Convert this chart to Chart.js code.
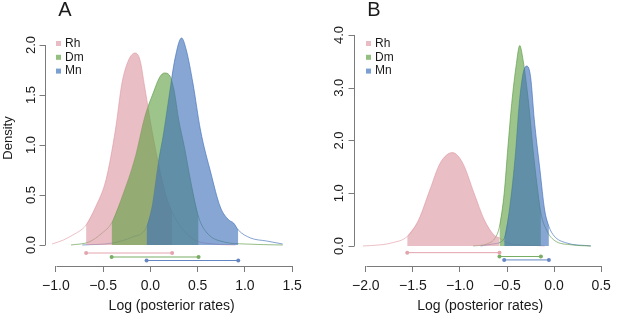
<!DOCTYPE html>
<html>
<head>
<meta charset="utf-8">
<script src="https://cdn.jsdelivr.net/npm/chart.js@4"></script>
<style>
  html, body { margin: 0; padding: 0; background: #fff; }
  .wrap { position: relative; width: 617px; height: 315px; }
  canvas { position: absolute; top: 0; }
  #chartA { left: 0; }
  #chartB { left: 308px; }
</style>
</head>
<body>
<div class="wrap">
  <canvas id="chartA" width="308" height="315"></canvas>
  <canvas id="chartB" width="309" height="315"></canvas>
</div>
<script>
// species order in legend
const species = ["Rh", "Dm", "Mn"];

// ---- panel A: posterior density curves ----
const rhAx = [-1.04, -0.92, -0.82, -0.72, -0.68, -0.58, -0.47, -0.37, -0.30, -0.23, -0.16, -0.11, -0.06, 0.01, 0.10, 0.17, 0.23, 0.33, 0.47, 0.67, 0.90];
const rhAy = [0.01, 0.05, 0.10, 0.16, 0.20, 0.38, 0.65, 1.15, 1.62, 1.85, 1.92, 1.85, 1.58, 1.18, 0.75, 0.48, 0.33, 0.17, 0.05, 0.01, 0.00];
const dmAx = [-0.84, -0.65, -0.51, -0.41, -0.30, -0.16, -0.06, 0.03, 0.10, 0.15, 0.20, 0.25, 0.30, 0.36, 0.43, 0.51, 0.60, 0.78, 1.00, 1.40];
const dmAy = [0.00, 0.03, 0.12, 0.22, 0.48, 0.88, 1.28, 1.52, 1.68, 1.72, 1.70, 1.55, 1.25, 0.98, 0.62, 0.28, 0.12, 0.03, 0.01, 0.00];
const mnAx = [-0.72, -0.40, -0.19, -0.04, 0.02, 0.08, 0.14, 0.20, 0.26, 0.33, 0.38, 0.45, 0.53, 0.64, 0.74, 0.83, 0.88, 0.93, 1.06, 1.23, 1.40];
const mnAy = [0.00, 0.02, 0.08, 0.18, 0.40, 0.80, 1.12, 1.50, 1.86, 2.07, 1.95, 1.62, 1.15, 0.72, 0.38, 0.25, 0.22, 0.15, 0.07, 0.04, 0.01];
const hpdA = [[-0.68, 0.23], [-0.41, 0.51], [-0.04, 0.93]];
const barLevelA = [-0.08, -0.12, -0.155];
const xTicksA = [-1.0, -0.5, 0.0, 0.5, 1.0, 1.5];
const yTicksA = [0.0, 0.5, 1.0, 1.5, 2.0];

// ---- panel B ----
const rhBx = [-2.03, -1.85, -1.72, -1.56, -1.44, -1.32, -1.21, -1.08, -0.97, -0.85, -0.74, -0.64, -0.58, -0.50, -0.35, -0.22, -0.10];
const rhBy = [0.00, 0.02, 0.06, 0.18, 0.49, 1.06, 1.57, 1.77, 1.57, 1.00, 0.49, 0.21, 0.15, 0.06, 0.02, 0.01, 0.00];
const dmBx = [-0.86, -0.71, -0.62, -0.58, -0.53, -0.49, -0.45, -0.40, -0.365, -0.33, -0.27, -0.22, -0.17, -0.14, -0.08, 0.0, 0.19, 0.39];
const dmBy = [0.00, 0.04, 0.17, 0.37, 1.00, 1.88, 2.70, 3.46, 3.80, 3.53, 2.70, 1.76, 1.00, 0.62, 0.30, 0.11, 0.02, 0.00];
const mnBx = [-0.78, -0.64, -0.53, -0.47, -0.41, -0.37, -0.33, -0.29, -0.25, -0.21, -0.15, -0.10, -0.055, 0.0, 0.125, 0.39];
const mnBy = [0.00, 0.04, 0.14, 0.75, 1.76, 2.70, 3.27, 3.41, 3.21, 2.39, 1.44, 0.68, 0.37, 0.19, 0.06, 0.00];
const hpdB = [[-1.56, -0.58], [-0.58, -0.14], [-0.53, -0.055]];
const barLevelB = [-0.127, -0.20, -0.265];
const xTicksB = [-2.0, -1.5, -1.0, -0.5, 0.0, 0.5];
const yTicksB = [0.0, 1.0, 2.0, 3.0, 4.0];

// colours
const fillCol = ["rgba(219,150,160,0.62)", "rgba(95,160,68,0.62)", "rgba(62,112,185,0.62)"];
const lineCol = ["rgba(220,140,152,0.55)", "rgba(80,145,55,0.6)", "rgba(50,100,180,0.6)"];
const barCol = ["#e3a4ad", "#78ad64", "#6486c2"];
const keyCol = ["#e8bcc2", "#93bf7f", "#7b9fd0"];
const axisCol = "#7a7a7a";
const textCol = "#1a1a1a";
const fontFam = "'Liberation Sans', Arial, Helvetica, sans-serif";

function fmt(v) {
    return v.toFixed(1).replace("-", "\u2212");
}

const rAxes = {
    id: "rAxes",
    afterDraw(chart, args, o) {
        const ctx = chart.ctx;
        const xs = chart.scales.x;
        const ys = chart.scales.y;
        const left = chart.chartArea.left;
        const bottom = chart.chartArea.bottom;

        ctx.save();
        ctx.strokeStyle = axisCol;
        ctx.lineWidth = 1;

        // x axis line (tick range only, R style)
        ctx.beginPath();
        ctx.moveTo(Math.round(xs.getPixelForValue(o.xTicks[0])) + 0.5, bottom + 0.5);
        ctx.lineTo(Math.round(xs.getPixelForValue(o.xTicks[o.xTicks.length - 1])) + 0.5, bottom + 0.5);
        ctx.stroke();

        // y axis line + ticks
        const ax = Math.round(left) - 0.5;
        ctx.beginPath();
        ctx.moveTo(ax, ys.getPixelForValue(o.yTicks[0]));
        ctx.lineTo(ax, ys.getPixelForValue(o.yTicks[o.yTicks.length - 1]));
        o.yTicks.forEach(v => {
            const py = Math.round(ys.getPixelForValue(v)) + 0.5;
            ctx.moveTo(ax, py);
            ctx.lineTo(ax - 6, py);
        });
        ctx.stroke();

        ctx.fillStyle = textCol;
        ctx.font = "13px " + fontFam;
        ctx.textAlign = "center";
        ctx.textBaseline = "middle";
        o.yTicks.forEach(v => {
            ctx.save();
            ctx.translate(left - 15, ys.getPixelForValue(v));
            ctx.rotate(-Math.PI / 2);
            ctx.fillText(fmt(v), 0, 0);
            ctx.restore();
        });

        if (o.yTitle) {
            ctx.save();
            ctx.translate(8, 138);
            ctx.rotate(-Math.PI / 2);
            ctx.fillText(o.yTitle, 0, 0);
            ctx.restore();
        }

        // legend
        ctx.font = "12px " + fontFam;
        ctx.textAlign = "left";
        species.forEach((s, i) => {
            const ry = 43.5 + i * 13.8;
            ctx.fillStyle = keyCol[i];
            ctx.fillRect(o.keyX, ry - 2.5, 5, 5);
            ctx.fillStyle = textCol;
            ctx.fillText(s, o.keyX + 9, ry);
        });

        // panel letter
        ctx.font = "20px " + fontFam;
        ctx.textAlign = "center";
        ctx.fillText(o.letter, o.letterX, 10);

        ctx.restore();
    }
};

function makePanel(id, p) {
    const datasets = [];
    p.curves.forEach((c, i) => {
        const pts = c[0].map((x, j) => ({ x: x, y: c[1][j] }));
        const lo = p.hpd[i][0], hi = p.hpd[i][1];

        // whole density curve, thin line underneath the fills
        datasets.push({
            data: pts,
            borderColor: lineCol[i],
            borderWidth: 1,
            pointRadius: 0,
            fill: false,
            cubicInterpolationMode: "monotone",
            order: 10
        });

        // shaded HPD part
        datasets.push({
            data: pts.filter(pt => pt.x >= lo - 1e-9 && pt.x <= hi + 1e-9),
            backgroundColor: fillCol[i],
            borderWidth: 0,
            pointRadius: 0,
            fill: "origin",
            cubicInterpolationMode: "monotone",
            order: 3 - i
        });

        // interval bar below
        datasets.push({
            data: [{ x: lo, y: p.bars[i] }, { x: hi, y: p.bars[i] }],
            borderColor: barCol[i],
            borderWidth: 1,
            pointRadius: 2,
            pointBorderWidth: 0,
            pointBackgroundColor: barCol[i],
            fill: false,
            order: 0
        });
    });

    return new Chart(document.getElementById(id), {
        type: "line",
        data: { datasets: datasets },
        options: {
            responsive: false,
            animation: false,
            layout: {
                autoPadding: false,
                padding: p.padding
            },
            plugins: {
                legend: { display: false },
                tooltip: { enabled: false },
                rAxes: p.axes
            },
            scales: {
                x: {
                    type: "linear",
                    min: p.xMin,
                    max: p.xMax,
                    afterBuildTicks: s => { s.ticks = p.axes.xTicks.map(v => ({ value: v })); },
                    afterFit: s => { s.height = 49; },
                    border: { display: false },
                    grid: {
                        drawOnChartArea: false,
                        drawTicks: true,
                        tickLength: 6,
                        color: axisCol
                    },
                    ticks: {
                        padding: 6,
                        maxRotation: 0,
                        color: textCol,
                        font: { family: fontFam, size: 14 },
                        callback: v => fmt(v)
                    },
                    title: {
                        display: true,
                        text: "Log (posterior rates)",
                        color: textCol,
                        font: { family: fontFam, size: 14 },
                        padding: { top: 0, bottom: 0 }
                    }
                },
                y: {
                    type: "linear",
                    display: false,
                    min: p.yMin,
                    max: p.yMax
                }
            }
        },
        plugins: [rAxes]
    });
}

makePanel("chartA", {
    curves: [[rhAx, rhAy], [dmAx, dmAy], [mnAx, mnAy]],
    hpd: hpdA,
    bars: barLevelA,
    xMin: -1.1, xMax: 1.55,
    yMin: -0.21, yMax: 2.1,
    padding: { left: 46.4, right: 7.2, top: 35, bottom: 0 },
    axes: { xTicks: xTicksA, yTicks: yTicksA, yTitle: "Density", keyX: 56, letter: "A", letterX: 65 }
});

makePanel("chartB", {
    curves: [[rhBx, rhBy], [dmBx, dmBy], [mnBx, mnBy]],
    hpd: hpdB,
    bars: barLevelB,
    xMin: -2.12, xMax: 0.55,
    yMin: -0.38, yMax: 4.1,
    padding: { left: 46.5, right: 6.2, top: 29.7, bottom: 0 },
    axes: { xTicks: xTicksB, yTicks: yTicksB, yTitle: "", keyX: 58, letter: "B", letterX: 66 }
});
</script>
</body>
</html>
